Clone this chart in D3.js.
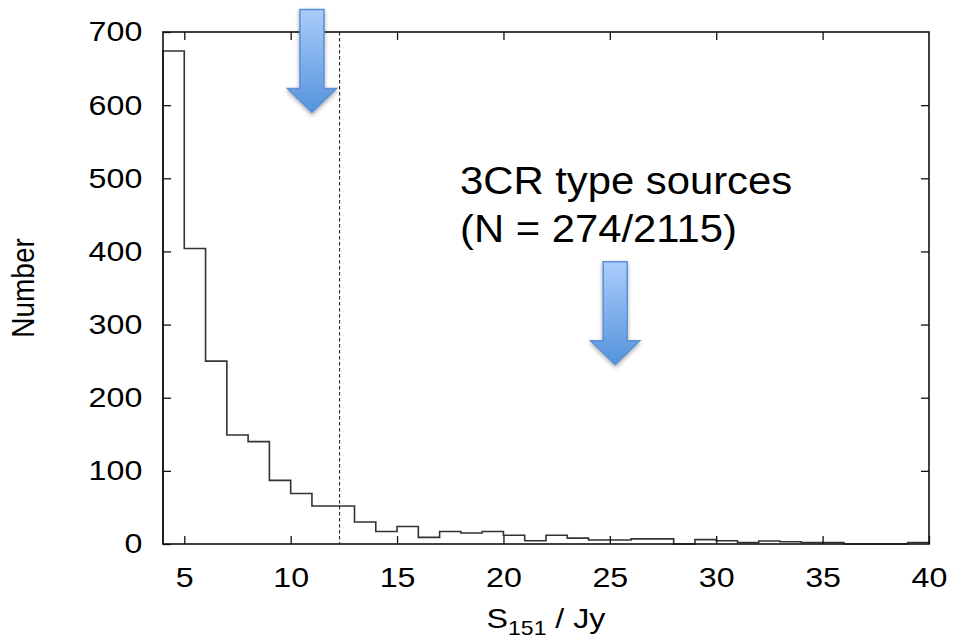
<!DOCTYPE html>
<html><head><meta charset="utf-8">
<script src="https://cdn.jsdelivr.net/npm/d3@7"></script>
<style>
html,body{margin:0;padding:0;background:#fff;}
svg{display:block;font-family:"Liberation Sans",Arial,Helvetica,sans-serif;}
</style></head>
<body>
<svg id="c" width="954" height="644"></svg>
<script>
// ---- data ----
const binEdges = [4,5,6,7,8,9,10,11,12,13,14,15,16,17,18,19,20,21,22,23,24,25,26,27,28,29,30,31,32,33,34,35,36,37,38,39,40];
const counts   = [674,404,250,149,140,87,69,52,52,30,17,24,9,17,15,17,12,4.5,12,8,5.5,5.5,7,7,0,6,4.5,2,4,3,2,2,0,0,0,2];
const xTicks = [5,10,15,20,25,30,35,40];
const yTicks = [0,100,200,300,400,500,600,700];
const cutValue = 12.3;
const annotLines = ["3CR type sources","(N = 274/2115)"];
const arrowTips = [{x:11.0, y:590},{x:25.25, y:245}];

// ---- layout ----
const svg = d3.select("#c");
const L=163, R=929, T=32, B=544;
const SX = 1.15; // horizontal stretch of text in the original figure
const x = d3.scaleLinear().domain([4,40]).range([L,R]);
const y = d3.scaleLinear().domain([0,700]).range([B,T]);

// gradient + shadow
const defs = svg.append("defs");
const g = defs.append("linearGradient").attr("id","ag").attr("x1",0).attr("y1",0).attr("x2",0).attr("y2",1);
g.append("stop").attr("offset","0%").attr("stop-color","#aacdfb");
g.append("stop").attr("offset","100%").attr("stop-color","#5593dc");
const f = defs.append("filter").attr("id","sh").attr("x","-30%").attr("y","-30%").attr("width","160%").attr("height","160%");
f.append("feDropShadow").attr("dx",0).attr("dy",2).attr("stdDeviation",2).attr("flood-color","#000").attr("flood-opacity",0.35);

// histogram step path
let d = `M${x(binEdges[0])},${y(0)}`;
counts.forEach((c,i)=>{ d += `V${y(c)}H${x(binEdges[i+1])}`; });
d += `V${y(0)}`;
svg.append("path").attr("d",d).attr("fill","none").attr("stroke","#333").attr("stroke-width",1.6);

// dashed line
svg.append("line").attr("x1",x(cutValue)).attr("x2",x(cutValue)).attr("y1",T).attr("y2",B)
  .attr("stroke","#111").attr("stroke-width",1).attr("stroke-dasharray","3.5,2.5");

// axes
const tickStyle = sel => { sel.select(".domain").remove(); sel.selectAll("line").attr("stroke","#111").attr("stroke-width",1.3); };
const ax = svg.append("g").attr("transform",`translate(0,${B})`)
  .call(d3.axisBottom(x).tickValues(xTicks).tickSizeInner(-8).tickSizeOuter(0).tickPadding(23).tickFormat(d3.format("d")));
ax.call(tickStyle);
ax.selectAll("text").attr("font-size",28).attr("fill","#000").attr("font-family",null).attr("transform",`scale(${SX},1)`);
const axT = svg.append("g").attr("transform",`translate(0,${T})`)
  .call(d3.axisTop(x).tickValues(xTicks.filter(v=>v<40)).tickSizeInner(-8).tickSizeOuter(0).tickFormat(""));
axT.call(tickStyle);
const ay = svg.append("g").attr("transform",`translate(${L},0)`)
  .call(d3.axisLeft(y).tickValues(yTicks).tickSizeInner(-8).tickSizeOuter(0).tickPadding(18));
ay.call(tickStyle);
ay.selectAll("text").attr("font-size",28).attr("fill","#000").attr("font-family",null).attr("transform",`scale(${SX},1)`);
const ayR = svg.append("g").attr("transform",`translate(${R},0)`)
  .call(d3.axisRight(y).tickValues(yTicks.filter(v=>v>0&&v<700)).tickSizeInner(-8).tickSizeOuter(0).tickFormat(""));
ayR.call(tickStyle);

// frame
svg.append("rect").attr("x",L).attr("y",T).attr("width",R-L).attr("height",B-T)
  .attr("fill","none").attr("stroke","#111").attr("stroke-width",1.6);

// axis titles
const xl = svg.append("text").attr("transform",`translate(${(L+R)/2},628) scale(${SX},1)`)
  .attr("text-anchor","middle").attr("font-size",28).attr("fill","#000");
xl.append("tspan").text("S");
xl.append("tspan").attr("font-size",20).attr("dy",7).text("151");
xl.append("tspan").attr("dy",-7).text(" / Jy");
svg.append("text").attr("transform",`translate(34,${(T+B)/2}) rotate(-90) scale(1,${SX})`)
  .attr("text-anchor","middle").attr("font-size",28).attr("fill","#000").text("Number");

// annotation text
annotLines.forEach((t,i)=>{
  svg.append("text").attr("transform",`translate(460,${194+i*48}) scale(1.1,1)`)
    .attr("font-size",38).attr("fill","#000").text(t);
});

// arrows
const shaftW=24, headW=49, headH=24, shaftH=79;
arrowTips.forEach(a=>{
  const cx=x(a.x), ty=y(a.y);
  const p = `M${cx-shaftW/2},${ty-headH-shaftH}H${cx+shaftW/2}V${ty-headH}H${cx+headW/2}L${cx},${ty}L${cx-headW/2},${ty-headH}H${cx-shaftW/2}Z`;
  svg.append("path").attr("d",p).attr("fill","url(#ag)").attr("stroke","#5b8fd6").attr("stroke-width",1.5)
    .attr("filter","url(#sh)");
});
</script>
</body></html>
